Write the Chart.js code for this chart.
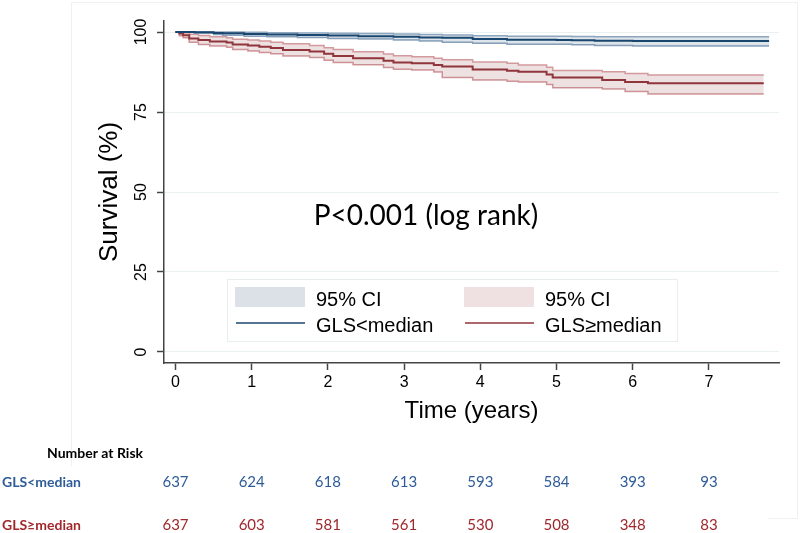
<!DOCTYPE html>
<html>
<head>
<meta charset="utf-8">
<script src="https://cdn.jsdelivr.net/npm/chart.js@4.4.1/dist/chart.umd.min.js"></script>
<style>
  html, body { margin: 0; padding: 0; background: #fff; }
  canvas { display: block; }
</style>
</head>
<body>
<canvas id="kmChart" width="800" height="533"></canvas>
<script>
// --- Datos ---
const groupNames = ['GLS<median', 'GLS\u2265median'];

// GLS<median: tiempo (años) y supervivencia (%) con IC 95%
const blueTime  = [0, 0.25, 0.5, 0.62, 0.9, 1.2, 1.6, 2.0, 2.4, 2.86, 3.2, 3.5, 3.9, 4.35, 5.0, 5.2, 5.5, 6.0, 7.79];
const blueSurv  = [100, 99.9, 99.7, 99.6, 99.4, 99.2, 99.1, 98.9, 98.7, 98.5, 98.3, 98.2, 97.8, 97.6, 97.5, 97.4, 97.3, 97.2, 97.2];
const blueUpper = [100, 100, 100, 100, 99.9, 99.8, 99.7, 99.6, 99.5, 99.4, 99.2, 99.1, 98.8, 98.7, 98.7, 98.6, 98.5, 98.5, 98.5];
const blueLower = [100, 99.6, 99.2, 99.0, 98.7, 98.5, 98.3, 98.0, 97.8, 97.5, 97.2, 96.8, 96.5, 96.2, 96.2, 96.0, 95.8, 95.6, 95.6];

// GLS>=median
const redTime  = [0, 0.05, 0.1, 0.18, 0.3, 0.45, 0.67, 0.75, 0.95, 1.1, 1.25, 1.41, 1.76, 1.95, 2.07, 2.33, 2.73, 2.86, 3.1, 3.39, 3.5, 3.9, 4.35, 4.5, 4.87, 4.95, 5.6, 5.9, 6.2, 7.72];
const redSurv  = [100, 99.5, 99.0, 98.0, 97.5, 97.0, 96.7, 96.1, 95.8, 95.4, 95.0, 94.4, 93.9, 93.2, 92.5, 91.8, 91.0, 90.5, 90.2, 89.7, 89.2, 88.3, 87.9, 87.6, 86.7, 85.8, 85.0, 84.4, 84.0, 84.0];
const redUpper = [100, 100, 99.8, 99.3, 98.9, 98.5, 98.2, 97.7, 97.5, 97.2, 96.8, 96.3, 95.8, 95.1, 94.5, 93.8, 93.1, 92.6, 92.3, 91.8, 91.3, 90.6, 90.2, 89.7, 89.0, 88.0, 87.6, 87.0, 86.6, 86.6];
const redLower = [100, 98.8, 98.2, 96.8, 96.1, 95.6, 95.2, 94.5, 94.1, 93.6, 93.2, 92.5, 92.0, 91.2, 90.5, 89.8, 88.9, 88.4, 88.1, 87.5, 85.8, 85.0, 84.6, 84.4, 83.6, 82.6, 82.2, 81.4, 80.6, 80.6];

const xTicks = [0, 1, 2, 3, 4, 5, 6, 7];
const yTicks = [0, 25, 50, 75, 100];

// Número en riesgo
const riskYears = [0, 1, 2, 3, 4, 5, 6, 7];
const riskLow  = [637, 624, 618, 613, 593, 584, 393, 93];
const riskHigh = [637, 603, 581, 561, 530, 508, 348, 83];

const pValueText = 'P<0.001 (log rank)';

/* --- Colores --- */
const NAVY = '#1a476f';
const MAROON = '#90353b';
const NAVY_BAND = 'rgba(26, 71, 111, 0.15)';
const MAROON_BAND = 'rgba(144, 53, 59, 0.15)';
const NAVY_EDGE = '#8ea5be';
const MAROON_EDGE = '#d39a9e';
const TABLE_BLUE = '#2e5c99';
const TABLE_RED = '#a0282c';

document.addEventListener('DOMContentLoaded', () => {
    initSurvivalChart();
});

function toPoints(times, values) {
    return times.map((t, i) => ({ x: t, y: values[i] }));
}

function stepLine(label, times, values, color, width, fill, bg) {
    return {
        label: label,
        data: toPoints(times, values),
        borderColor: color,
        borderWidth: width,
        backgroundColor: bg || 'transparent',
        fill: fill || false,
        stepped: 'before',
        pointRadius: 0,
        tension: 0
    };
}

// Marco, leyenda interna, texto del p y tabla de riesgo
const annotations = {
    id: 'annotations',
    beforeDraw(chart) {
        const ctx = chart.ctx;
        ctx.save();
        ctx.fillStyle = '#fff';
        ctx.fillRect(0, 0, chart.width, chart.height);
        ctx.strokeStyle = '#eef2f4';
        ctx.lineWidth = 1;
        ctx.strokeRect(71.5, 2.5, 726, 516);
        ctx.restore();
    },
    afterDraw(chart) {
        const ctx = chart.ctx;
        ctx.save();

        // leyenda
        ctx.fillStyle = '#fff';
        ctx.fillRect(227, 279, 450, 62);
        ctx.strokeStyle = '#e8eef0';
        ctx.lineWidth = 1;
        ctx.strokeRect(227.5, 279.5, 450, 62);
        ctx.fillStyle = '#dce1e8';
        ctx.fillRect(235, 287, 70, 20);
        ctx.fillStyle = '#efe0e1';
        ctx.fillRect(464, 287, 70, 20);
        ctx.lineWidth = 1.5;
        ctx.strokeStyle = NAVY;
        ctx.beginPath(); ctx.moveTo(236, 323); ctx.lineTo(305, 323); ctx.stroke();
        ctx.strokeStyle = MAROON;
        ctx.beginPath(); ctx.moveTo(465, 323); ctx.lineTo(534, 323); ctx.stroke();
        ctx.fillStyle = '#000';
        ctx.font = '20px "Liberation Sans"';
        ctx.textAlign = 'left';
        ctx.textBaseline = 'alphabetic';
        ctx.fillText('95% CI', 316, 306);
        ctx.fillText('95% CI', 545, 306);
        ctx.fillText(groupNames[0], 316, 332);
        ctx.fillText(groupNames[1], 545, 332);

        // valor p
        ctx.font = '28px Lato';
        ctx.textAlign = 'center';
        ctx.fillText(pValueText, 426, 225);

        // tabla de número en riesgo
        ctx.fillStyle = '#fff';
        ctx.fillRect(0, 466, 768, 67);
        const x = chart.scales.x;
        ctx.textBaseline = 'middle';
        ctx.font = 'bold 14px Lato';
        ctx.fillStyle = '#000';
        ctx.fillText('Number at Risk', 95, 453);
        ctx.textAlign = 'left';
        ctx.fillStyle = TABLE_BLUE;
        ctx.fillText(groupNames[0], 2, 482);
        ctx.fillStyle = TABLE_RED;
        ctx.fillText(groupNames[1], 2, 525);
        ctx.font = '15px Lato';
        ctx.textAlign = 'center';
        riskYears.forEach((yr, i) => {
            const px = x.getPixelForValue(yr);
            ctx.fillStyle = TABLE_BLUE;
            ctx.fillText(String(riskLow[i]), px, 482);
            ctx.fillStyle = TABLE_RED;
            ctx.fillText(String(riskHigh[i]), px, 525);
        });
        ctx.restore();
    }
};

function initSurvivalChart() {
    const canvas = document.getElementById('kmChart');
    if (!canvas) return;

    new Chart(canvas.getContext('2d'), {
        type: 'line',
        data: {
            datasets: [
                stepLine(groupNames[0], blueTime, blueSurv, NAVY, 2),
                stepLine(groupNames[1], redTime, redSurv, MAROON, 2),
                stepLine('95% CI', blueTime, blueUpper, NAVY_EDGE, 1.5, '+1', NAVY_BAND),
                stepLine('95% CI lower', blueTime, blueLower, NAVY_EDGE, 1.5),
                stepLine('95% CI', redTime, redUpper, MAROON_EDGE, 1.5, '+1', MAROON_BAND),
                stepLine('95% CI lower', redTime, redLower, MAROON_EDGE, 1.5)
            ]
        },
        options: {
            responsive: false,
            animation: false,
            layout: { padding: { left: 0, top: 21, right: 21, bottom: 100 } },
            plugins: {
                legend: { display: false },
                tooltip: { enabled: false }
            },
            scales: {
                x: {
                    type: 'linear',
                    min: -0.151,
                    max: 7.92,
                    afterBuildTicks: s => { s.ticks = xTicks.map(v => ({ value: v })); },
                    afterFit: s => { s.height = 70; },
                    border: { color: '#444', width: 1.5 },
                    grid: { drawOnChartArea: false, tickColor: '#444', tickLength: 7, tickWidth: 1.5 },
                    ticks: {
                        padding: 3,
                        color: '#000',
                        maxRotation: 0,
                        font: { family: 'Liberation Sans', size: 16 }
                    },
                    title: {
                        display: true,
                        text: 'Time (years)',
                        color: '#000',
                        font: { family: 'Liberation Sans', size: 24 },
                        padding: { top: 0, bottom: 7 }
                    }
                },
                y: {
                    type: 'linear',
                    min: -3.44,
                    max: 103.44,
                    afterBuildTicks: s => { s.ticks = yTicks.map(v => ({ value: v })); },
                    afterFit: s => { s.width = 164; },
                    border: { color: '#444', width: 1.5 },
                    grid: { color: '#eaf1f3', lineWidth: 1, tickColor: '#444', tickLength: 7, tickWidth: 1.5 },
                    ticks: {
                        minRotation: 90,
                        maxRotation: 90,
                        crossAlign: 'center',
                        padding: 2,
                        color: '#000',
                        font: { family: 'Liberation Sans', size: 16 }
                    },
                    title: {
                        display: true,
                        text: 'Survival (%)',
                        color: '#000',
                        font: { family: 'Liberation Sans', size: 26 },
                        padding: { top: 94, bottom: 0 }
                    }
                }
            }
        },
        plugins: [annotations]
    });
}
</script>
</body>
</html>
